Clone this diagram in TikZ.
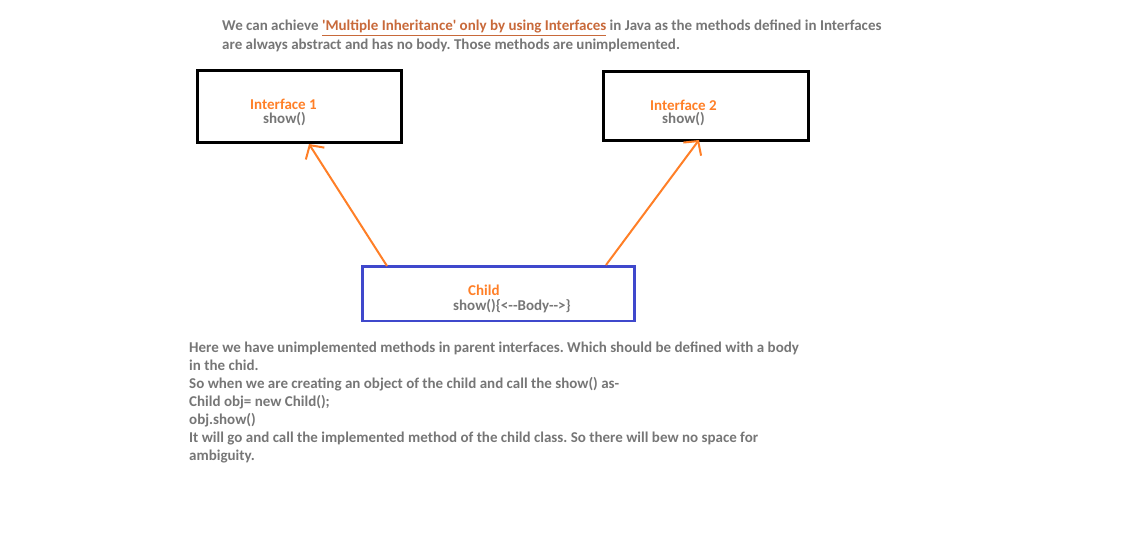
\documentclass[tikz,border=0pt]{standalone}
\usepackage{fontspec}
\setmainfont{Carlito}
\usetikzlibrary{arrows.meta}
\definecolor{txtgray}{HTML}{767676}
\definecolor{paintorange}{HTML}{FF7F27}
\definecolor{linkorange}{HTML}{C8693A}
\definecolor{childblue}{HTML}{3F48CC}
\frenchspacing

\begin{document}
\begin{tikzpicture}[x=1pt, y=-1pt,
	font=\fontsize{15}{18}\selectfont\bfseries,
	every node/.style={inner sep=0pt, text=txtgray},
	txt/.style={anchor = base west},
	label/.style={anchor = base west, text=paintorange},
	box/.style={draw, line width=3pt, minimum width=#1},
	link/.style={draw=paintorange, line width=2pt, -{Straight Barb[length=10pt, width=22pt]}}]
	\useasboundingbox (0,0) rectangle (1137,551);
	% top note
	\node[txt] (note1) at (222,31) {We can achieve \textcolor{linkorange}{\underline{\textquotesingle Multiple Inheritance\textquotesingle{} only by using Interfaces}} in Java as the methods defined in Interfaces};
	\node[txt] (note2) at (222,49) {are always abstract and has no body. Those methods are unimplemented.};
	% boxes
	\node[box=204pt, minimum height=72pt] (iface1) at (299.5,106.5) {};
	\node[box=205pt, minimum height=69.5pt] (iface2) at (705.5,105.75) {};
	\node[box=272pt, minimum height=54.5pt, draw=childblue, line width=2.7pt] (child) at (498.5,293.75) {};
	\node[label] (iface1name) at (250,109) {Interface 1};
	\node[txt] (iface1show) at (263,123) {show()};
	\node[label] (iface2name) at (650,110) {Interface 2};
	\node[txt] (iface2show) at (662,123) {show()};
	\node[label] (childname) at (468,295) {Child};
	\node[txt] (childshow) at (453,310) {show()\{<{-}{-}Body{-}{-}>\}};
	% arrows
	\coordinate (from1) at (387,266);
	\coordinate (to1) at (309,144);
	\coordinate (from2) at (606,265);
	\coordinate (to2) at (699,140);
	\draw[link] (from1) -- (to1);
	\draw[link] (from2) -- (to2);
	% bottom text
	\foreach \y/\line in {352/Here we have unimplemented methods in parent interfaces. Which should be defined with a body,
		370/in the chid.,
		388/So when we are creating an object of the child and call the show() as-,
		406/Child obj= new Child();,
		424/obj.show(),
		442/It will go and call the implemented method of the child class. So there will bew no space for,
		460/ambiguity.}
		\node[txt] at (189,\y) {\line};
\end{tikzpicture}
\end{document}
